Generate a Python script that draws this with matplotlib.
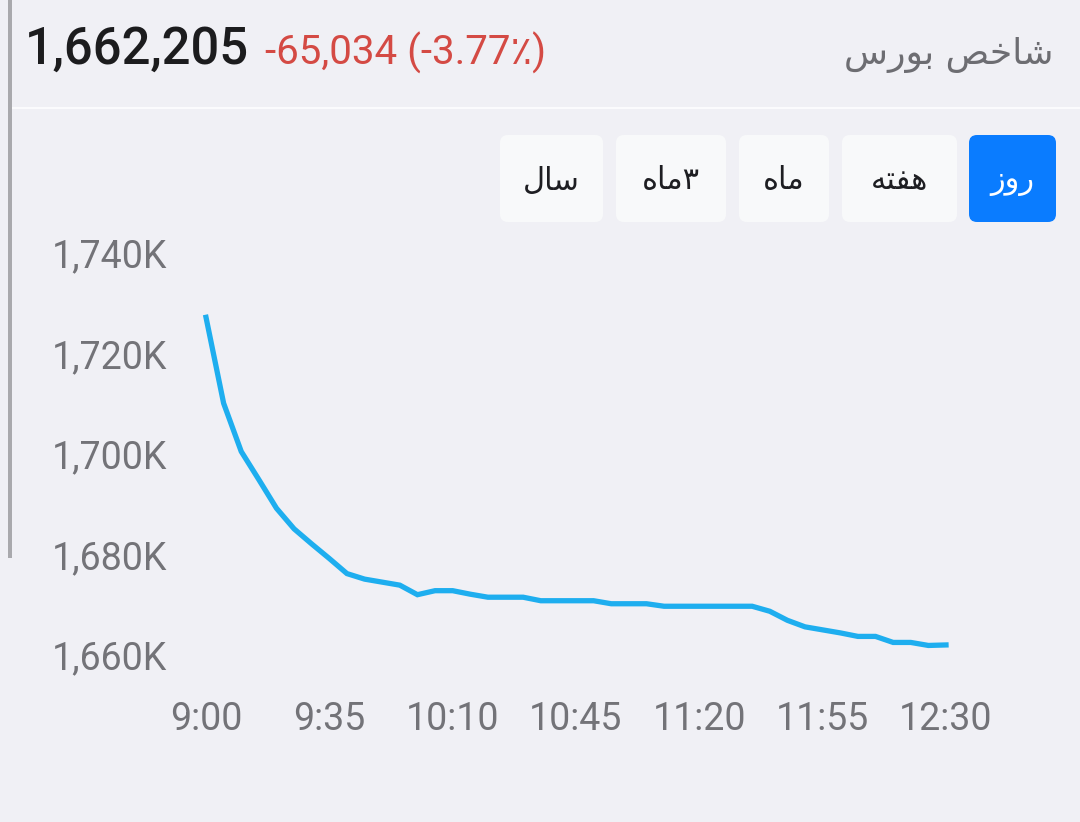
import matplotlib
matplotlib.use("Agg")
import matplotlib.pyplot as plt
from matplotlib.patches import FancyBboxPatch, Rectangle

# ---------------- data ----------------
times = ["9:00", "9:05", "9:10", "9:15", "9:20", "9:25", "9:30", "9:35", "9:40", "9:45",
         "9:50", "9:55", "10:00", "10:05", "10:10", "10:15", "10:20", "10:25", "10:30", "10:35",
         "10:40", "10:45", "10:50", "10:55", "11:00", "11:05", "11:10", "11:15", "11:20", "11:25",
         "11:30", "11:35", "11:40", "11:45", "11:50", "11:55", "12:00", "12:05", "12:10", "12:15",
         "12:20", "12:25", "12:30"]
values_k = [1727.2, 1710.1, 1700.5, 1694.9, 1689.2, 1685.1, 1682.1, 1679.2, 1676.2, 1675.1,
            1674.5, 1673.9, 1672.0, 1672.8, 1672.8, 1672.1, 1671.5, 1671.5, 1671.5, 1670.8,
            1670.8, 1670.8, 1670.8, 1670.2, 1670.2, 1670.2, 1669.7, 1669.7, 1669.7, 1669.7,
            1669.7, 1669.7, 1668.7, 1666.9, 1665.6, 1665.0, 1664.4, 1663.7, 1663.7, 1662.5,
            1662.5, 1661.9, 1662.0]
x_ticks = ["9:00", "9:35", "10:10", "10:45", "11:20", "11:55", "12:30"]
y_ticks = [1660, 1680, 1700, 1720, 1740]
title = "شاخص بورس"
last_value = "1,662,205"
change_text = "-65,034 (-3.77٪)"
buttons = ["سال", "۳ماه", "ماه", "هفته", "روز"]
selected = "روز"

# ---------------- simple Arabic shaping ----------------
FORMS = {
    "ا": ("\uFE8D", "\uFE8E"), "ب": ("\uFE8F", "\uFE90", "\uFE91", "\uFE92"),
    "ت": ("\uFE95", "\uFE96", "\uFE97", "\uFE98"), "خ": ("\uFEA5", "\uFEA6", "\uFEA7", "\uFEA8"),
    "ر": ("\uFEAD", "\uFEAE"), "ز": ("\uFEAF", "\uFEB0"),
    "س": ("\uFEB1", "\uFEB2", "\uFEB3", "\uFEB4"), "ش": ("\uFEB5", "\uFEB6", "\uFEB7", "\uFEB8"),
    "ص": ("\uFEB9", "\uFEBA", "\uFEBB", "\uFEBC"), "ف": ("\uFED1", "\uFED2", "\uFED3", "\uFED4"),
    "ل": ("\uFEDD", "\uFEDE", "\uFEDF", "\uFEE0"), "م": ("\uFEE1", "\uFEE2", "\uFEE3", "\uFEE4"),
    "ه": ("\uFEE9", "\uFEEA", "\uFEEB", "\uFEEC"), "و": ("\uFEED", "\uFEEE"),
}


def shape(s):
    out = []
    for i, c in enumerate(s):
        if c not in FORMS:
            out.append(c)
            continue
        f = FORMS[c]
        prev = s[i - 1] if i > 0 else None
        nxt = s[i + 1] if i + 1 < len(s) else None
        jp = prev in FORMS and len(FORMS[prev]) == 4
        jn = nxt in FORMS and len(f) == 4
        if jp and jn:
            out.append(f[3])
        elif jp:
            out.append(f[1])
        elif jn:
            out.append(f[2])
        else:
            out.append(f[0])
    return "".join(out[::-1])


# ---------------- figure ----------------
W, H = 1080, 822
BG = "#f0f0f5"
fig = plt.figure(figsize=(W / 100, H / 100), dpi=100, facecolor=BG)

ov = fig.add_axes([0, 0, 1, 1])
ov.set_xlim(0, W)
ov.set_ylim(H, 0)
ov.axis("off")
ov.set_facecolor(BG)

# left bar and separator
ov.add_patch(Rectangle((8, 0), 4, 558, color="#a9a9ad", lw=0))
ov.add_patch(Rectangle((12, 107), W, 2.5, color="#fbfbfd", lw=0))

# header
ov.text(25, 50, last_value, fontsize=36.5, fontweight="medium", family=["Roboto", "DejaVu Sans"],
        color="#1c1c1e", ha="left", va="center")
ov.text(265, 53, change_text, fontsize=29, family=["Roboto", "DejaVu Sans"],
        color="#d44a44", ha="left", va="center")
ov.text(1053, 55, shape(title), fontsize=26, family="DejaVu Sans",
        color="#6d6d72", ha="right", va="center")

# range buttons
btn_box = [(500, 603), (616, 726), (739, 829), (842, 957), (969, 1056)]
for lab, (x0, x1) in zip(buttons, btn_box):
    sel = lab == selected
    ov.add_patch(FancyBboxPatch((x0, 135), x1 - x0, 87,
                                boxstyle="round,pad=0,rounding_size=8",
                                fc="#0a7cff" if sel else "#f8f9fa", ec="none"))
    ov.text((x0 + x1) / 2, 181, shape(lab), fontsize=22, family="DejaVu Sans",
            color="white" if sel else "#1e1e22", ha="center", va="center")

# ---------------- chart ----------------
def minutes(t):
    h, m = t.split(":")
    return (int(h) - 9) * 60 + int(m)


xs = [minutes(t) for t in times]
left, right = 206 / W, 946 / W
bottom, top = (H - 655) / H, (H - 253) / H
ax = fig.add_axes([left, bottom, right - left, top - bottom])
ax.set_facecolor("none")
ax.plot(xs, values_k, color="#1eaeef", lw=3.8, solid_joinstyle="miter", clip_on=False)
ax.set_xlim(0, 210)
ax.set_ylim(1660, 1740)
ax.set_xticks([minutes(t) for t in x_ticks])
ax.set_xticklabels(x_ticks)
ax.set_yticks(y_ticks)
ax.set_yticklabels([f"{v:,}K" for v in y_ticks])
for s in ax.spines.values():
    s.set_visible(False)
ax.tick_params(axis="both", length=0, labelsize=27, labelcolor="#737378")
ax.tick_params(axis="y", pad=28)
ax.tick_params(axis="x", pad=33)
for lbl in ax.get_xticklabels() + ax.get_yticklabels():
    lbl.set_family(["Roboto", "DejaVu Sans"])

fig.savefig("out.png", dpi=100, facecolor=BG)
